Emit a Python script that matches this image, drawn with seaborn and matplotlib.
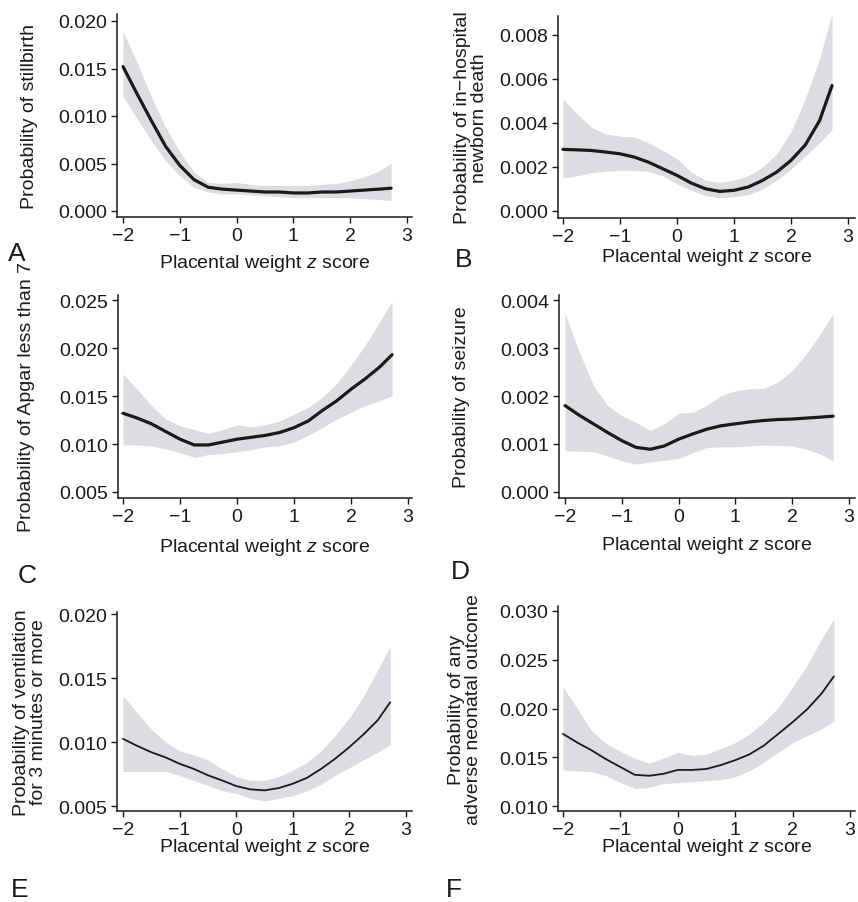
import numpy as np
import pandas as pd
import seaborn as sns
import matplotlib.pyplot as plt

# z score grid shared by every panel
z = [-2, -1.75, -1.5, -1.25, -1, -0.75, -0.5, -0.25, 0, 0.25, 0.5, 0.75,
     1, 1.25, 1.5, 1.75, 2, 2.25, 2.5, 2.72]

# A - stillbirth
a_fit = [.0152, .0123, .0095, .0068, .0048, .0033, .0025, .0023, .0022, .0021,
         .0020, .0020, .0019, .0019, .0020, .0020, .0021, .0022, .0023, .0024]
a_hi = [.0189, .0156, .0120, .0088, .0062, .0041, .0030, .0029, .0030, .0028,
        .0027, .0027, .0027, .0027, .0028, .0029, .0032, .0036, .0042, .0050]
a_lo = [.0121, .0097, .0074, .0053, .0037, .0025, .0020, .0018, .0018, .0017,
        .0016, .0015, .0014, .0014, .0014, .0014, .0014, .0013, .0012, .0011]

# B - in-hospital newborn death
b_fit = [.0028, .00278, .00275, .00268, .0026, .00245, .00222, .00192, .00162, .00127,
         .00101, .00089, .00094, .00109, .00139, .00177, .0023, .0030, .0041, .0057]
b_hi = [.0051, .0044, .0038, .0035, .0034, .00336, .0031, .00275, .00238, .00177,
        .0014, .0013, .0014, .0016, .0020, .0026, .0036, .0051, .0069, .0090]
b_lo = [.0015, .0016, .00174, .0018, .00185, .00184, .0018, .0016, .00124, .00094,
        .0007, .0006, .00064, .00074, .0010, .0014, .0019, .0025, .0031, .0037]

# C - Apgar < 7
c_fit = [.0132, .0127, .0121, .0113, .0105, .0099, .0099, .0102, .0105, .0107,
         .0109, .0112, .0117, .0124, .0135, .0145, .0157, .0168, .0180, .0193]
c_hi = [.0173, .0157, .0140, .0126, .0119, .0115, .0111, .0115, .0120, .0118,
        .0120, .0124, .0131, .0138, .0149, .0163, .0182, .0203, .0227, .0249]
c_lo = [.0099, .0099, .0098, .0095, .0091, .0086, .0089, .0090, .0092, .0094,
        .0097, .0098, .0102, .0109, .0117, .0126, .0133, .0140, .0145, .0150]

# D - seizure
d_fit = [.0018, .00160, .00142, .00124, .00107, .00093, .00089, .00096, .0011, .00121,
         .00131, .00138, .00142, .00146, .00149, .00151, .00152, .00154, .00156, .00158]
d_hi = [.00372, .00292, .00222, .0018, .00159, .00145, .00128, .00142, .00164, .00166,
        .00181, .00201, .00211, .00215, .00216, .00229, .00253, .00288, .0033, .00372]
d_lo = [.00086, .00085, .00084, .00075, .00065, .00058, .00063, .00066, .0007, .00082,
        .00093, .00094, .00094, .00096, .00098, .00097, .00096, .00089, .00079, .00065]

# E - ventilation >= 3 min
e_fit = [.01025, .0097, .0092, .0088, .0083, .0079, .0074, .0070, .00656, .0063,
         .00622, .0064, .00674, .0072, .0079, .0087, .0096, .0106, .0117, .0131]
e_hi = [.0136, .0123, .0110, .0100, .0093, .0090, .0086, .0079, .0073, .0070,
        .0070, .0073, .0078, .0084, .0093, .0105, .0119, .0136, .0156, .0175]
e_lo = [.0077, .0077, .0077, .0077, .0074, .0070, .0066, .0062, .0060, .0056,
        .0054, .0056, .0058, .0062, .0067, .0074, .0080, .0086, .0092, .0098]

# F - any adverse neonatal outcome
f_fit = [.0174, .0165, .0157, .0148, .0140, .0132, .0131, .0133, .0137, .0137,
         .0138, .0142, .0147, .0153, .0162, .0174, .0186, .0199, .0215, .0233]
f_hi = [.0222, .0200, .0177, .0164, .0156, .0149, .0144, .0149, .0155, .0152,
        .0153, .0159, .0165, .0174, .0186, .0201, .0222, .0244, .0271, .0292]
f_lo = [.0137, .0136, .0135, .0131, .0124, .0118, .0119, .0123, .0124, .0125,
        .0126, .0127, .0130, .0136, .0145, .0155, .0165, .0172, .0179, .0187]

ylabels = ["Probability of stillbirth",
           "Probability of in\u2212hospital\nnewborn death",
           "Probability of Apgar less than 7",
           "Probability of seizure",
           "Probability of ventilation\nfor 3 minutes or more",
           "Probability of any\nadverse neonatal outcome"]
letters = ["A", "B", "C", "D", "E", "F"]
yticks = [[0, .005, .010, .015, .020],
          [0, .002, .004, .006, .008],
          [.005, .010, .015, .020, .025],
          [0, .001, .002, .003, .004],
          [.005, .010, .015, .020],
          [.010, .015, .020, .025, .030]]
xticks = [-2, -1, 0, 1, 2, 3]

sns.set_theme(style="ticks")
plt.rcParams['font.family'] = ['Liberation Sans', 'DejaVu Sans']
plt.rcParams['mathtext.fontset'] = 'custom'
plt.rcParams['mathtext.rm'] = 'Liberation Sans'
plt.rcParams['mathtext.it'] = 'Liberation Sans:italic'

W, H = 858, 903
fig = plt.figure(figsize=(W / 100, H / 100), dpi=100)

# pixel layout: (left, top, right, bottom), x tick px at -2 and 3,
# two y ticks as (pixel, value) pairs
layout = [
    ((117, 15, 412, 218), (123, 407), ((212, 0.0), (22, 0.020))),
    ((558, 17, 855, 219), (563, 848), ((212, 0.0), (36, 0.008))),
    ((118, 296, 412, 499), (123, 408), ((493, 0.005), (349, 0.020))),
    ((559, 296, 855, 499), (565, 849), ((493, 0.0), (349, 0.003))),
    ((117, 613, 412, 812), (123, 406), ((807, 0.005), (615, 0.020))),
    ((558, 607, 855, 812), (563, 850), ((807, 0.010), (612, 0.030))),
]
ylab_x = [30, 471, 27, 462, 30, 465]
xlab_y = [264, 258, 547, 545, 848, 848]
letter_pos = [(17, 254), (464, 260), (27, 576), (460, 572), (20, 890), (454, 890)]
line_w = [2.3, 2.3, 2.3, 2.3, 1.3, 1.3]

fits = [a_fit, b_fit, c_fit, d_fit, e_fit, f_fit]
his = [a_hi, b_hi, c_hi, d_hi, e_hi, f_hi]
los = [a_lo, b_lo, c_lo, d_lo, e_lo, f_lo]

ink = '#1a1a1a'
for i in range(6):
    (l, t, r, b), (px_m2, px_3), ((py_lo, v_lo), (py_hi, v_hi)) = layout[i]
    ax = fig.add_axes([l / W, 1 - b / H, (r - l) / W, (b - t) / H])
    # limits from pixel positions of ticks
    sx = (px_3 - px_m2) / 5.0
    x0 = -2 - (px_m2 - l) / sx
    x1 = 3 + (r - px_3) / sx
    sy = (py_lo - py_hi) / (v_hi - v_lo)
    y0 = v_lo - (b - py_lo) / sy
    y1 = v_hi + (py_hi - t) / sy

    df = pd.DataFrame({'z': z, 'fit': fits[i], 'hi': his[i], 'lo': los[i]})
    ax.fill_between(df['z'], df['lo'], df['hi'], color='#dcdde0', lw=0)
    sns.lineplot(data=df, x='z', y='fit', ax=ax, color=ink, lw=line_w[i])

    ax.set_xlim(x0, x1)
    ax.set_ylim(y0, y1)
    ax.set_xticks(xticks)
    ax.set_yticks(yticks[i])
    ax.set_yticklabels([f"{v:.3f}" for v in yticks[i]])
    ax.tick_params(labelsize=14, length=4, width=1, pad=3, colors=ink)
    for s in ['left', 'bottom']:
        ax.spines[s].set_linewidth(1.1)
        ax.spines[s].set_color(ink)
    sns.despine(ax=ax)

    ax.set_xlabel(r"Placental weight $z$ score", fontsize=14, color=ink)
    ax.set_ylabel(ylabels[i], fontsize=14, color=ink, linespacing=1.0)
    ax.xaxis.set_label_coords(0.5, (b - xlab_y[i]) / (b - t))
    ax.xaxis.label.set_va('center')
    ax.yaxis.set_label_coords((ylab_x[i] - l) / (r - l), 0.5)
    ax.yaxis.label.set_va('center')
    ax.yaxis.label.set_rotation_mode('default')

    lx, ly = letter_pos[i]
    fig.text(lx / W, 1 - ly / H, letters[i], fontsize=19, color=ink,
             ha='center', va='center')

fig.savefig('out.png', dpi=100)
